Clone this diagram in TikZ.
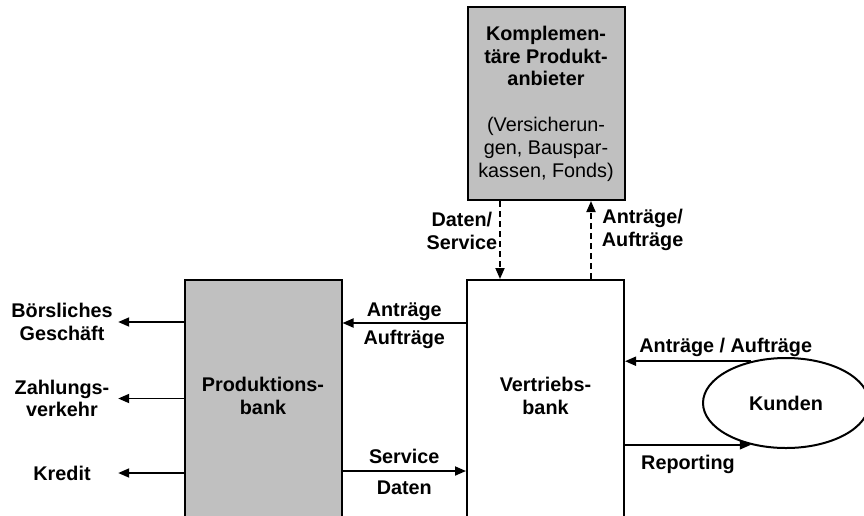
\documentclass[tikz,border=0pt]{standalone}
\usepackage{fontspec}
\setmainfont{Liberation Sans}
\usetikzlibrary{arrows.meta, positioning, shapes.geometric}
\definecolor{bankgray}{RGB}{192, 192, 192}

\begin{document}
\begin{tikzpicture}[x=1pt, y=-1pt,
    every node/.style={font=\bfseries\fontsize{19.8}{22.8}\selectfont, align=center, inner sep=1pt},
    bank/.style={draw, line width=2pt, minimum width=157pt, minimum height=280pt,
      anchor=north, inner sep=0pt},
    side/.style={text width=110pt},
    arr/.style={line width=1.8pt, -{Triangle[length=11pt, width=9pt]}},
    dasharr/.style={arr, dash pattern=on 6pt off 4pt},
  ]
  \clip (0,0) rectangle (864,515);

  % boxes
  \node[bank, fill=bankgray] (prodbank) at (263,279) {};
  \node[bank] (vertbank) at (545.5,279) {};
  \node (prodtxt) at (263,396) {Produktions-\\bank};
  \node (verttxt) at (545.5,396) {Vertriebs-\\bank};
  \node[bank, fill=bankgray, anchor=center, minimum height=193pt] (anbieter) at (546,103.5)
    {Komplemen-\\täre Produkt-\\anbieter\\[22.8pt]
     \mdseries(Versicherun-\\\mdseries gen, Bauspar-\\\mdseries kassen, Fonds)};
  \node[draw, ellipse, line width=2pt, minimum width=166pt, minimum height=90pt,
    inner sep=0pt] (kunden) at (786,403) {Kunden};

  % business lines
  \node[side] (boerse) at (62,322) {Börsliches\\Geschäft};
  \node[side] (zahlung) at (62,398.5) {Zahlungs-\\verkehr};
  \node[side] (kredit) at (62,473) {Kredit};
  \draw[arr] (prodbank.west |- boerse) -- (boerse.east);
  \draw[arr] (prodbank.west |- zahlung) -- (zahlung.east);
  \draw[arr] (prodbank.west |- kredit) -- (kredit.east);

  % bank to bank
  \draw[arr] ([yshift=-44pt]vertbank.north west) --
    node[above=0pt] {Anträge} node[below=5pt] {Aufträge}
    ([yshift=-44pt]prodbank.north east);
  \draw[arr] ([yshift=-192pt]prodbank.north east) --
    node[above=5pt] {Service} node[below=8pt] {Daten}
    ([yshift=-192pt]vertbank.north west);

  % product providers
  \draw[dasharr] ([xshift=-46pt]anbieter.south) --
    node[left=1pt, pos=0.38] {Daten/\\Service}
    ([xshift=-45.5pt]vertbank.north);
  \draw[dasharr] ([xshift=45.5pt]vertbank.north) --
    node[right=9pt, pos=0.63] {Anträge/\\Aufträge}
    ([xshift=45pt]anbieter.south);

  % customers
  \draw[arr] (kunden.130) -- node[above=3pt, pos=0.2] {Anträge / Aufträge}
    (kunden.130 -| vertbank.east);
  \draw[arr] (kunden.230 -| vertbank.east) -- node[below=8pt] {Reporting} (kunden.230);
\end{tikzpicture}
\end{document}
